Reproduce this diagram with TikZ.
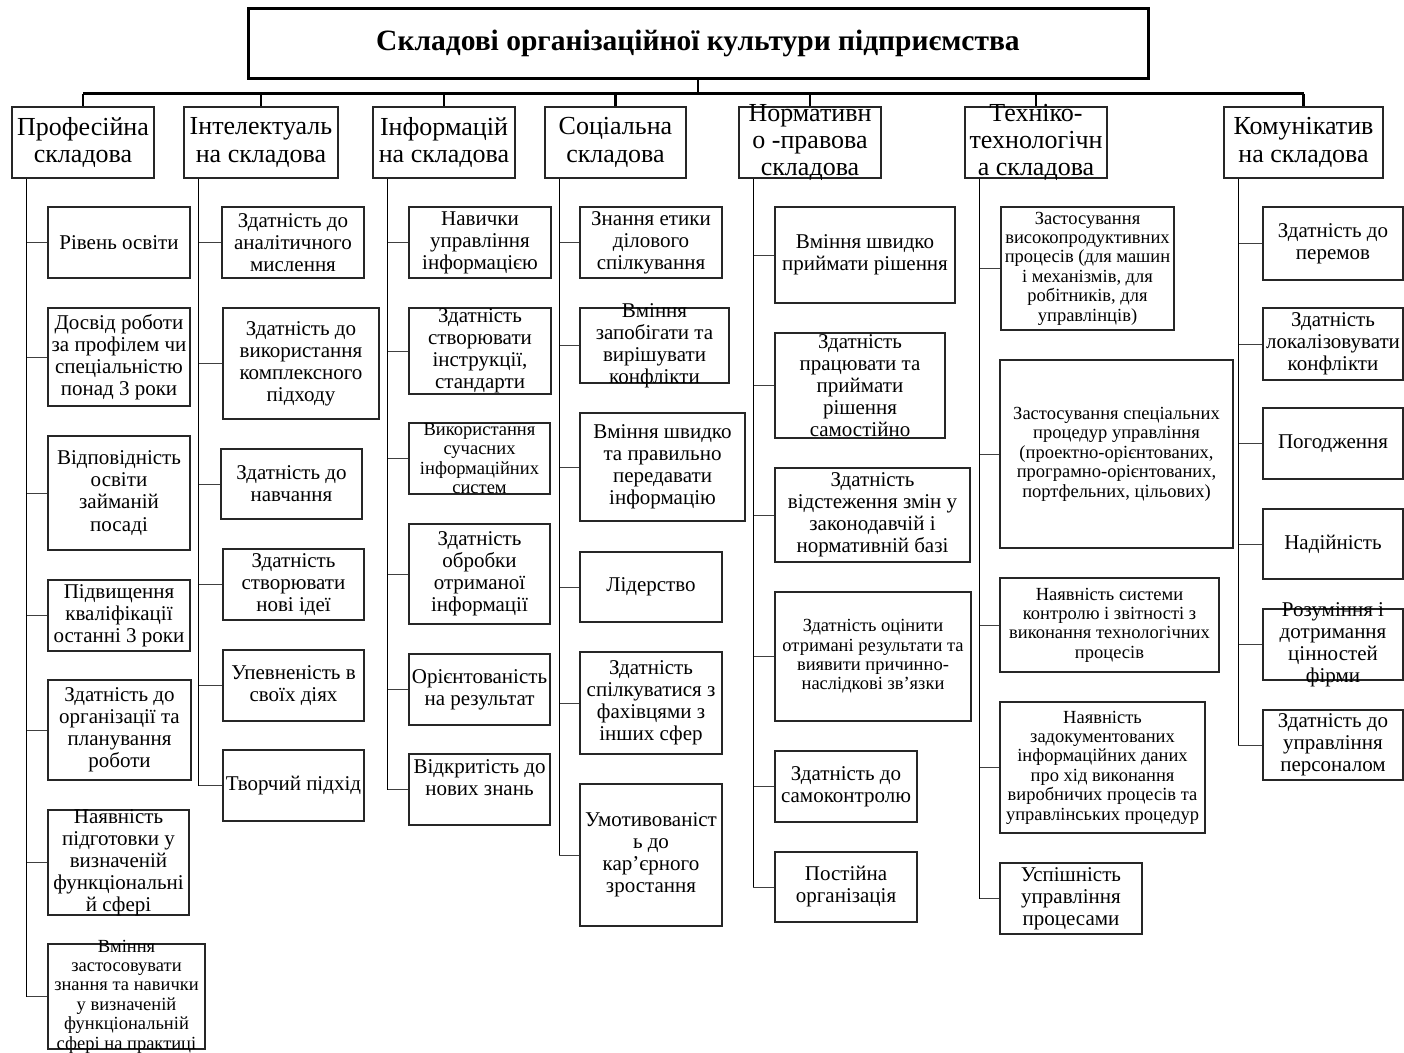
\documentclass[tikz,border=0pt]{standalone}
\usepackage{fontspec}
\setmainfont{Liberation Serif}
\usetikzlibrary{calc}

\begin{document}
\begin{tikzpicture}[x=1pt,y=-1pt]
	
	\useasboundingbox (0,0) rectangle (1404,1052);
	
	% --- styles ---
	\tikzset{
		cell/.style   = {draw=black!85, line width=1.1pt, inner sep=0pt},
		txt/.style    = {align=center, inner sep=0pt},
		bus/.style    = {line width=3pt},
		drop/.style   = {line width=2.4pt},
		trunk/.style  = {line width=1.8pt},
		branch/.style = {line width=1pt, black!75},
	}
	
	% macro for one box with its text
	\newcommand{\DrawCell}[8]{% #1=name, #2..#5=x1/y1/x2/y2, #6=font size, #7=text shift, #8=text
		\pgfmathsetmacro{\ls}{#6*1.05}%
		\node[cell, minimum width={#4-#2}, minimum height={#5-#3}] (#1) at ({(#2+#4)/2},{(#3+#5)/2}) {};
		\node[txt, font=\fontsize{#6}{\ls}\selectfont, yshift=#7] (#1-t) at (#1) {#8};
	}
	
	% macro for one column hanging from its trunk
	\newcommand{\DrawColumn}[2]{% #1=trunk, #2=list
		\foreach \xa/\ya/\xb/\yb/\fs/\dy/\txt [count=\i] in #2 {%
			\DrawCell{#1-\i}{\xa}{\ya}{\xb}{\yb}{\fs}{\dy}{\txt}
			\draw[branch] (#1 |- #1-\i.west) -- (#1-\i.west);
			\xdef\nLast{\i}%
		}%
		\draw[trunk] (#1) -- (#1 |- #1-\nLast.west);
	}
	
	% --- lists (x1/y1/x2/y2/size/shift/text) ---
	\def\colOne{48/207/190/278/21/0/{Рівень освіти},
		48/308/190/406/21/0/{Досвід роботи\\за профілем чи\\спеціальністю\\понад 3 роки},
		48/436/190/550/21/0/{Відповідність\\освіти\\займаній\\посаді},
		48/580/190/651/21/0/{Підвищення\\кваліфікації\\останні 3 роки},
		48/680/191/780/21/0/{Здатність до\\організації та\\планування\\роботи},
		48/810/189/915/21/0/{Наявність\\підготовки у\\визначеній\\функціональні\\й сфері},
		48/944/205/1049/18.5/0/{Вміння\\застосовувати\\знання та навички\\у визначеній\\функціональній\\сфері на практиці}}
	\def\colTwo{222/207/364/278/21/0/{Здатність до\\аналітичного\\мислення},
		223/308/379/419/21/0/{Здатність до\\використання\\комплексного\\підходу},
		221/449/362/519/21/0/{Здатність до\\навчання},
		223/549/364/620/21/0/{Здатність\\створювати\\нові ідеї},
		223/650/364/721/21/0/{Упевненість в\\своїх діях},
		223/750/364/821/21/0/{Творчий підхід}}
	\def\colThr{409/207/551/278/21/0/{Навички\\управління\\інформацією},
		409/308/551/394/21/0/{Здатність\\створювати\\інструкції,\\стандарти},
		409/423/550/494/18.5/0/{Використання\\сучасних\\інформаційних\\систем},
		409/524/550/624/21/0/{Здатність\\обробки\\отриманої\\інформації},
		409/654/550/725/21/0/{Орієнтованість\\на результат},
		409/754/550/825/21/12/{Відкритість до\\нових знань}}
	\def\colFour{580/207/722/278/21/0/{Знання етики\\ділового\\спілкування},
		580/308/729/383/21/0/{Вміння\\запобігати та\\вирішувати\\конфлікти},
		580/413/745/521/21/0/{Вміння швидко\\та правильно\\передавати\\інформацію},
		580/552/722/622/21/0/{Лідерство},
		580/652/722/754/21/0/{Здатність\\спілкуватися з\\фахівцями з\\інших сфер},
		580/784/722/926/21/0/{Умотивованіст\\ь до\\кар’єрного\\зростання}}
	\def\colFive{775/207/955/303/21/0/{Вміння швидко\\приймати рішення},
		775/333/945/438/21/0/{Здатність\\працювати та\\приймати\\рішення\\самостійно},
		775/468/970/562/21/0/{Здатність\\відстеження змін у\\законодавчій і\\нормативній базі},
		775/592/971/721/18.5/0/{Здатність оцінити\\отримані результати та\\виявити причинно-\\наслідкові зв’язки},
		775/751/917/822/21/0/{Здатність до\\самоконтролю},
		775/852/917/922/21/0/{Постійна\\організація}}
	\def\colSix{1001/207/1174/330/18.5/0/{Застосування\\високопродуктивних\\процесів (для машин\\і механізмів, для\\робітників, для\\управлінців)},
		1000/360/1233/548/18.5/0/{Застосування спеціальних\\процедур управління\\(проектно-орієнтованих,\\програмно-орієнтованих,\\портфельних, цільових)},
		1000/578/1219/672/18.5/0/{Наявність системи\\контролю і звітності з\\виконання технологічних\\процесів},
		1000/702/1205/833/18.5/0/{Наявність\\задокументованих\\інформаційних даних\\про хід виконання\\виробничих процесів та\\управлінських процедур},
		1000/863/1142/934/21/0/{Успішність\\управління\\процесами}}
	\def\colSev{1263/207/1403/280/21/0/{Здатність до\\перемов},
		1263/308/1403/380/21/0/{Здатність\\локалізовувати\\конфлікти},
		1263/408/1403/479/21/0/{Погодження},
		1263/509/1403/579/21/0/{Надійність},
		1263/609/1403/680/21/0/{Розуміння і\\дотримання\\цінностей\\фірми},
		1263/710/1403/780/21/0/{Здатність до\\управління\\персоналом}}
	
	% title
	\node[cell, draw=black, line width=3pt, minimum width=900, minimum height=70,
		font=\fontsize{29.5}{31}\selectfont\bfseries] (title) at (698,43)
		{Складові організаційної культури підприємства};
	
	% headers
	\DrawCell{h1}{12}{107}{154}{178}{26}{0}{Професійна\\складова}
	\DrawCell{h2}{184}{107}{338}{178}{26}{0}{Інтелектуаль\\на складова}
	\DrawCell{h3}{373}{107}{515}{178}{26}{0}{Інформацій\\на складова}
	\DrawCell{h4}{545}{107}{686}{178}{26}{0}{Соціальна\\складова}
	\DrawCell{h5}{739}{107}{881}{178}{26}{0}{Нормативн\\о -правова\\складова}
	\DrawCell{h6}{965}{107}{1107}{178}{26}{0}{Техніко-\\технологічн\\а складова}
	\DrawCell{h7}{1224}{107}{1383}{178}{26}{0}{Комунікатив\\на складова}
	
	% bus line
	\coordinate (bus) at ([yshift=-14pt]title.south);
	\draw[drop] (title.south) -- (bus);
	\draw[bus] (h1.north |- bus) -- (h7.north |- bus);
	\foreach \h in {1,...,7} {
		\draw[drop] (h\h.north |- bus) -- (h\h.north);
		\coordinate (t\h) at ([xshift=15pt]h\h.south west);
	}
	
	% columns
	\DrawColumn{t1}{\colOne}
	\DrawColumn{t2}{\colTwo}
	\DrawColumn{t3}{\colThr}
	\DrawColumn{t4}{\colFour}
	\DrawColumn{t5}{\colFive}
	\DrawColumn{t6}{\colSix}
	\DrawColumn{t7}{\colSev}
	
\end{tikzpicture}
\end{document}
